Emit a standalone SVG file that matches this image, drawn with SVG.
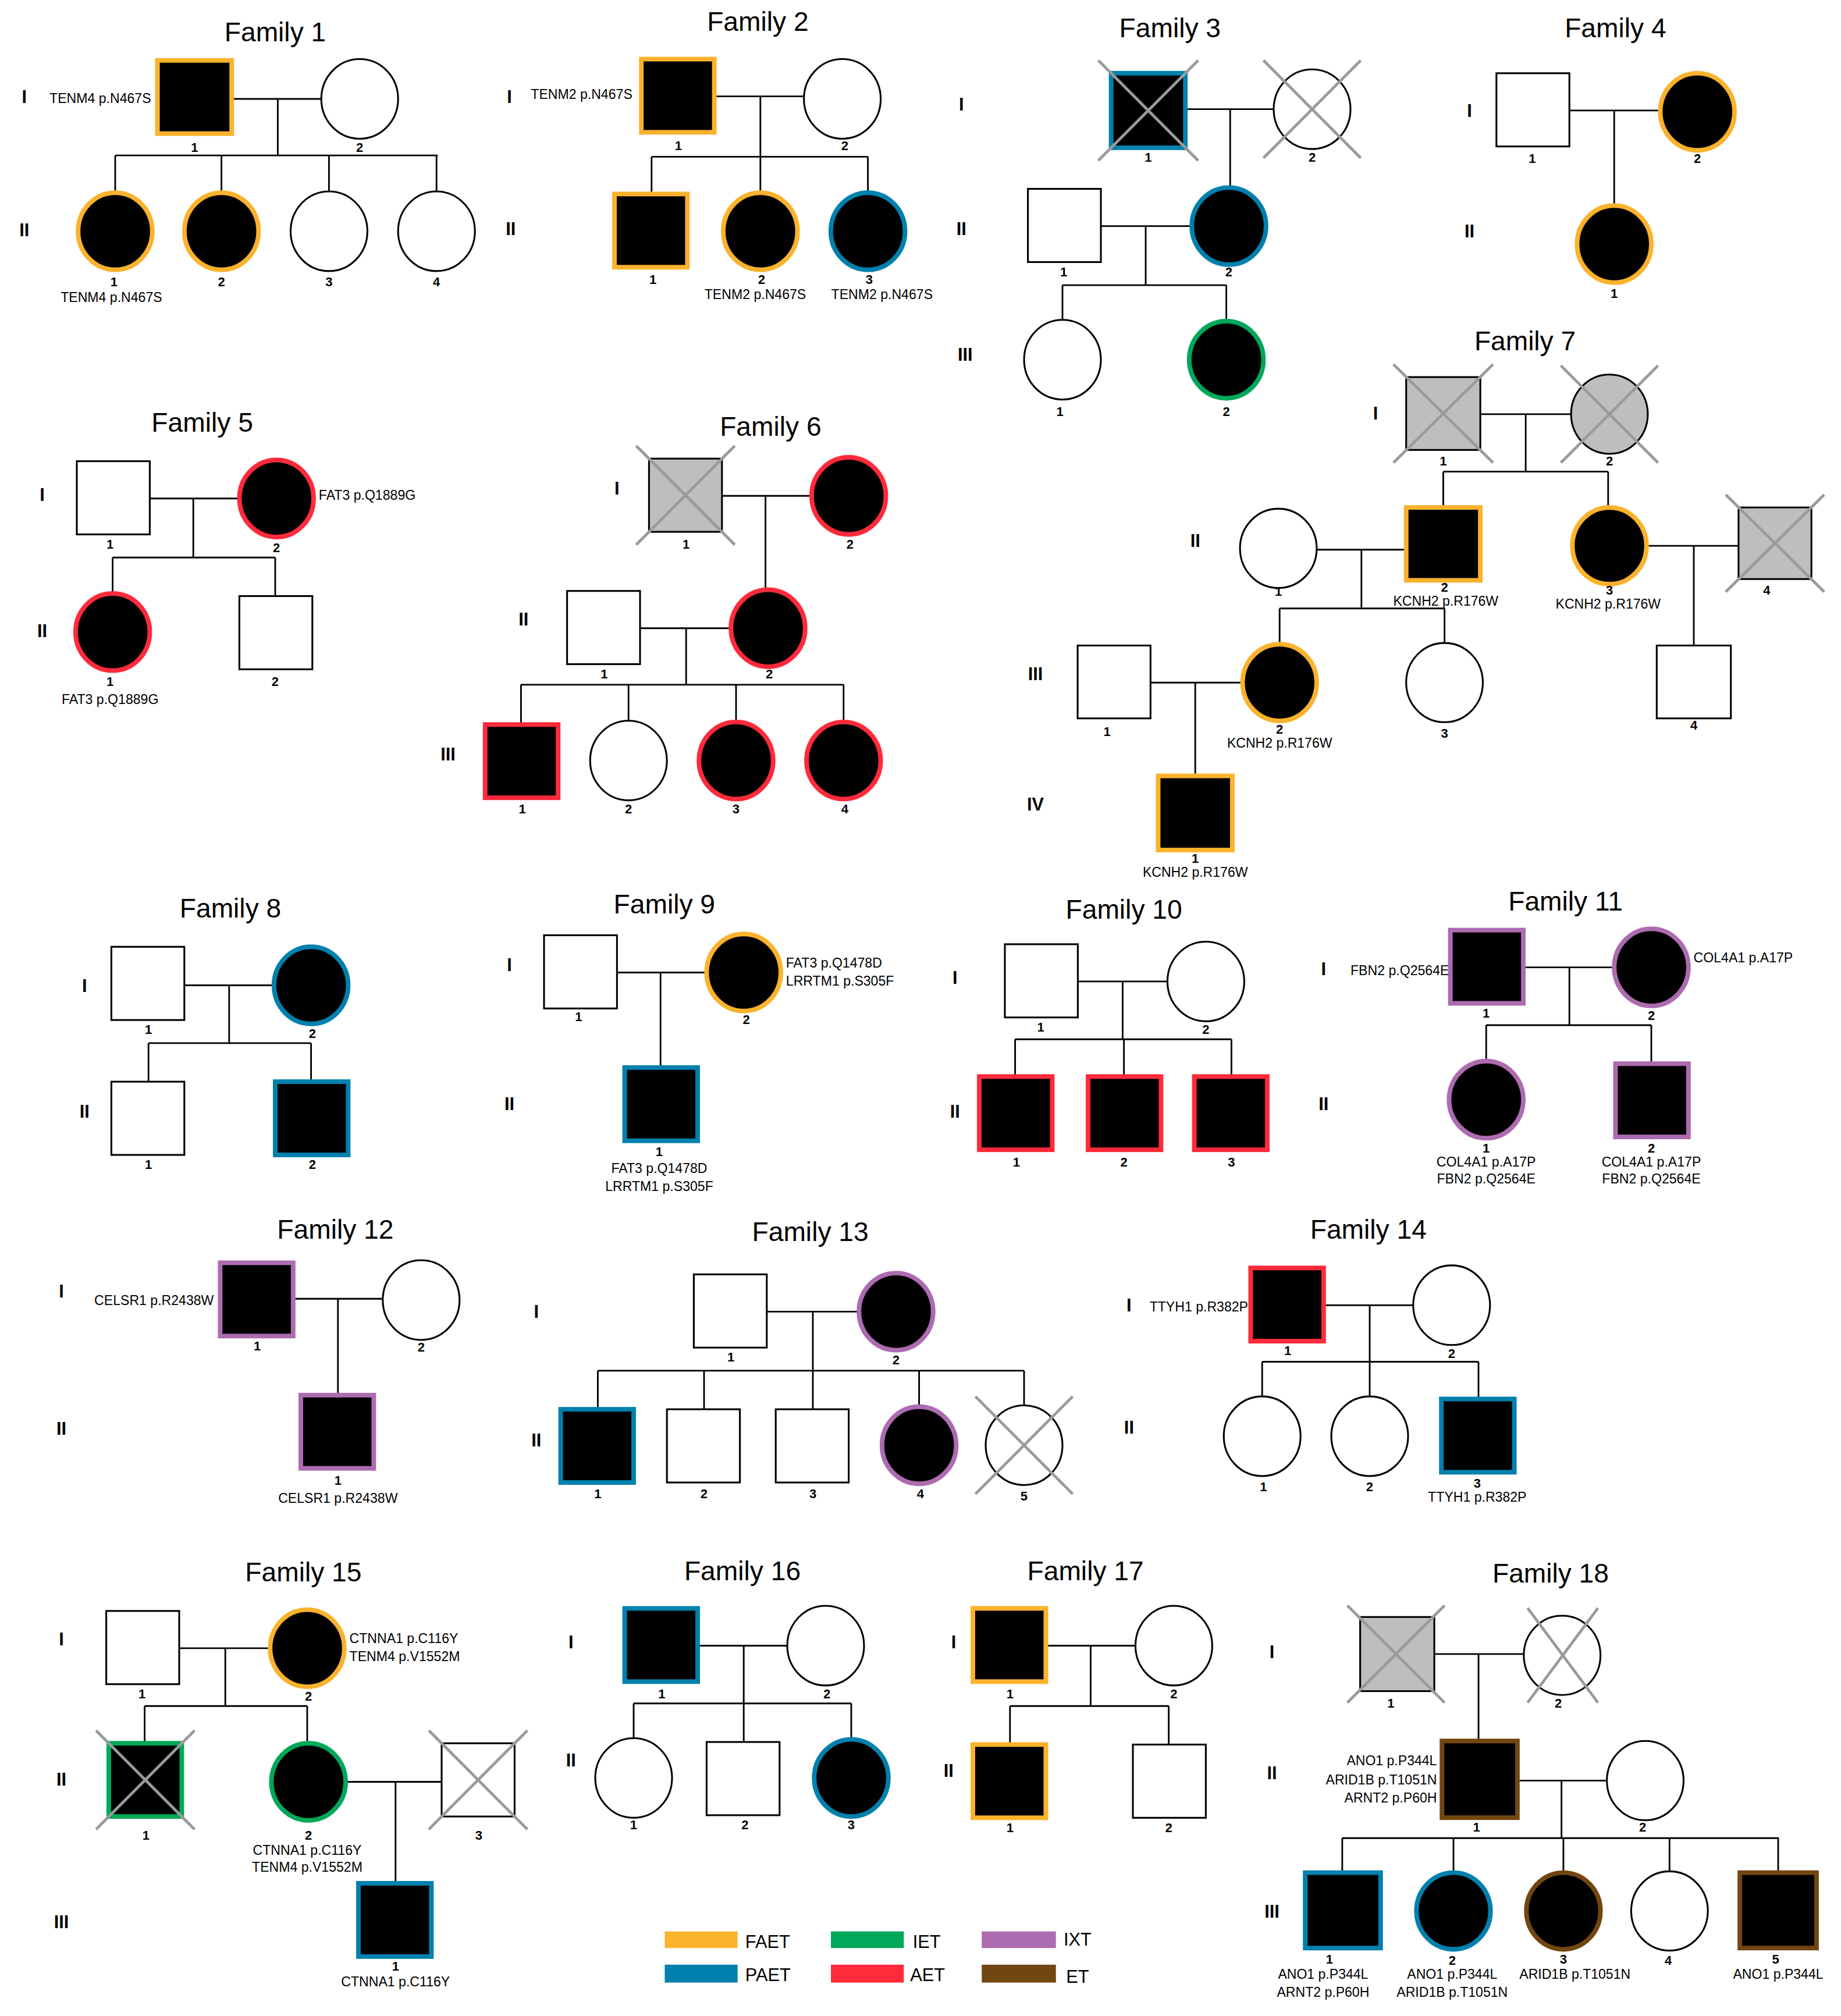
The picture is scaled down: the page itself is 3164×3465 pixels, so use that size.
<svg xmlns="http://www.w3.org/2000/svg" width="3164" height="3465" viewBox="0 0 3164 3465">
<style>
.s{fill:#fff;stroke:#000;stroke-width:1.4}
.gr{fill:#BCBEC0;stroke:#000;stroke-width:1.4}
.k{fill:#000;stroke-width:3.6}
.o{stroke:#FBB22C}.b{stroke:#0081AD}.g{stroke:#00A859}.r{stroke:#FF2A3A}.p{stroke:#AD6BB0}.n{stroke:#724611}
.x{stroke:#9A9A9A;stroke-width:2.2;fill:none}
.ln{stroke:#000;stroke-width:1.3;fill:none}
text{font-family:"Liberation Sans",Arial,sans-serif;fill:#000}
.t{font-size:21px;text-anchor:middle}
.l{font-size:10.5px}
.c{text-anchor:middle}
.e{text-anchor:end}
.nm{font-size:10px;font-weight:bold;text-anchor:middle}
.gn{font-size:14px;font-weight:bold;text-anchor:middle}
.lg{font-size:14px}
</style>
<rect width="3164" height="3465" fill="#fff"/>
<g transform="scale(2.2,2.208)">
<g id="connectors-main" class="ln">
<path d="M181 77H251M217 77V121M90 121H342M90 121V149M173 121V149M257 121V149M341 121V149"/>
<path d="M558 75H628M594 75V122M509 122H678M509 122V151M594 122V149M678 122V149"/>
<path d="M926 85H995M961 85V145M860 176H930M895 176V222M830 222H958M830 222V249M958 222V249"/>
<path d="M1226 86H1296M1261 86V159"/>
<path d="M117 388H186M151 388V434M88 434H215M88 434V461M215 434V464"/>
<path d="M564 386H633M598 386V458M500 489H570M536 489V533M407 533H659M407 533V564M491 533V561M575 533V561M659 533V561"/>
<path d="M144 767H213M179 767V812M116 812H243M116 812V842M243 812V842"/>
<path d="M482 757H551M516 757V831"/>
<path d="M842 764H912M877 764V809M793 809H962M793 809V838M878 809V838M962 809V838"/>
<path d="M1190 753H1260M1226 753V798M1161 798H1290M1161 798V825M1290 798V828"/>
<path d="M229 1011H299M264 1011V1086"/>
<path d="M599 1021H670M635 1021V1067M467 1067H800M467 1067V1097M550 1067V1097M635 1067V1097M718 1067V1094M800 1067V1094"/>
<path d="M1034 1016H1104M1070 1016V1060M986 1060H1155M986 1060V1087M1070 1060V1087M1155 1060V1089"/>
<path d="M140 1283H210M176 1283V1328M113 1328H240M113 1328V1357M240 1328V1356M271 1387H345M309 1387V1466"/>
<path d="M545 1281H615M581 1281V1326M495 1326H665M495 1326V1353M581 1326V1356M665 1326V1353"/>
<path d="M817 1281H887M852 1281V1328M789 1328H913M789 1328V1358M913 1328V1358"/>
</g>
<g id="family1">
<text class="t" x="215" y="32">Family 1</text>
<text class="gn" x="19" y="80">I</text><text class="gn" x="19" y="184">II</text>
<rect class="k o" x="123" y="47" width="58" height="57"/><text class="l e" x="118" y="80">TENM4 p.N467S</text><text class="nm" x="152" y="118">1</text>
<ellipse class="s" cx="281" cy="77" rx="30" ry="31"/><text class="nm" x="281" y="118">2</text>
<ellipse class="k o" cx="90" cy="180" rx="29" ry="30"/><text class="nm" x="89" y="223">1</text><text class="l c" x="87" y="235">TENM4 p.N467S</text>
<ellipse class="k o" cx="173" cy="180" rx="29" ry="30"/><text class="nm" x="173" y="223">2</text>
<ellipse class="s" cx="257" cy="180" rx="30" ry="31"/><text class="nm" x="257" y="223">3</text>
<ellipse class="s" cx="341" cy="180" rx="30" ry="31"/><text class="nm" x="341" y="223">4</text>
</g>
<g id="family2">
<text class="t" x="592" y="24">Family 2</text>
<text class="gn" x="398" y="80">I</text><text class="gn" x="399" y="183">II</text>
<rect class="k o" x="501" y="46" width="57" height="57"/><text class="l e" x="494" y="77">TENM2 p.N467S</text><text class="nm" x="530" y="117">1</text>
<ellipse class="s" cx="658" cy="77" rx="30" ry="31"/><text class="nm" x="660" y="117">2</text>
<rect class="k o" x="480" y="151" width="57" height="57"/><text class="nm" x="510" y="221">1</text>
<ellipse class="k o" cx="594" cy="180" rx="29" ry="30"/><text class="nm" x="595" y="221">2</text><text class="l c" x="590" y="233">TENM2 p.N467S</text>
<ellipse class="k b" cx="678" cy="180" rx="29" ry="30"/><text class="nm" x="679" y="221">3</text><text class="l c" x="689" y="233">TENM2 p.N467S</text>
</g>
<g id="family3">
<text class="t" x="914" y="29">Family 3</text>
<text class="gn" x="751" y="86">I</text><text class="gn" x="751" y="183">II</text><text class="gn" x="754" y="281">III</text>
<rect class="k b" x="868" y="57" width="58" height="58"/><path class="x" d="M858 47L936 125M936 47L858 125"/><text class="nm" x="897" y="126">1</text>
<ellipse class="s" cx="1025" cy="85" rx="30" ry="31"/><path class="x" d="M987 47L1063 123M1063 47L987 123"/><text class="nm" x="1025" y="126">2</text>
<rect class="s" x="803" y="147" width="57" height="57"/><text class="nm" x="831" y="215">1</text>
<ellipse class="k b" cx="960" cy="176" rx="29" ry="30"/><text class="nm" x="960" y="215">2</text>
<ellipse class="s" cx="830" cy="280" rx="30" ry="31"/><text class="nm" x="828" y="324">1</text>
<ellipse class="k g" cx="958" cy="280" rx="29" ry="30"/><text class="nm" x="958" y="324">2</text>
</g>
<g id="family4">
<text class="t" x="1262" y="29">Family 4</text>
<text class="gn" x="1148" y="91">I</text><text class="gn" x="1148" y="185">II</text>
<rect class="s" x="1169" y="57" width="57" height="57"/><text class="nm" x="1197" y="127">1</text>
<ellipse class="k o" cx="1326" cy="87" rx="29" ry="30"/><text class="nm" x="1326" y="127">2</text>
<ellipse class="k o" cx="1261" cy="190" rx="29" ry="30"/><text class="nm" x="1261" y="232">1</text>
</g>
<g id="family5">
<text class="t" x="158" y="336">Family 5</text>
<text class="gn" x="33" y="390">I</text><text class="gn" x="33" y="496">II</text>
<rect class="s" x="60" y="359" width="57" height="57"/><text class="nm" x="86" y="427">1</text>
<ellipse class="k r" cx="216" cy="388" rx="29" ry="30"/><text class="nm" x="216" y="430">2</text><text class="l" x="249" y="389">FAT3 p.Q1889G</text>
<ellipse class="k r" cx="88" cy="492" rx="29" ry="30"/><text class="nm" x="86" y="534">1</text><text class="l c" x="86" y="548">FAT3 p.Q1889G</text>
<rect class="s" x="187" y="464" width="57" height="57"/><text class="nm" x="215" y="534">2</text>
</g>
<g id="family6">
<text class="t" x="602" y="339">Family 6</text>
<text class="gn" x="482" y="385">I</text><text class="gn" x="409" y="487">II</text><text class="gn" x="350" y="592">III</text>
<rect class="gr" x="507" y="357" width="57" height="57"/><path class="x" d="M497 347L574 424M574 347L497 424"/><text class="nm" x="536" y="427">1</text>
<ellipse class="k r" cx="663" cy="386" rx="29" ry="30"/><text class="nm" x="664" y="427">2</text>
<rect class="s" x="443" y="460" width="57" height="57"/><text class="nm" x="472" y="528">1</text>
<ellipse class="k r" cx="600" cy="489" rx="29" ry="30"/><text class="nm" x="601" y="528">2</text>
<rect class="k r" x="379" y="564" width="57" height="57"/><text class="nm" x="408" y="633">1</text>
<ellipse class="s" cx="491" cy="592" rx="30" ry="31"/><text class="nm" x="491" y="633">2</text>
<ellipse class="k r" cx="575" cy="592" rx="29" ry="30"/><text class="nm" x="575" y="633">3</text>
<ellipse class="k r" cx="659" cy="592" rx="29" ry="30"/><text class="nm" x="660" y="633">4</text>
</g>
<g id="family8">
<text class="t" x="180" y="714">Family 8</text>
<text class="gn" x="66" y="772">I</text><text class="gn" x="66" y="870">II</text>
<rect class="s" x="87" y="737" width="57" height="57"/><text class="nm" x="116" y="805">1</text>
<ellipse class="k b" cx="243" cy="767" rx="29" ry="30"/><text class="nm" x="244" y="808">2</text>
<rect class="s" x="87" y="842" width="57" height="57"/><text class="nm" x="116" y="910">1</text>
<rect class="k b" x="215" y="842" width="57" height="57"/><text class="nm" x="244" y="910">2</text>
</g>
<g id="family9">
<text class="t" x="519" y="711">Family 9</text>
<text class="gn" x="398" y="756">I</text><text class="gn" x="398" y="864">II</text>
<rect class="s" x="425" y="728" width="57" height="57"/><text class="nm" x="452" y="795">1</text>
<ellipse class="k o" cx="581" cy="757" rx="29" ry="30"/><text class="nm" x="583" y="797">2</text>
<text class="l" x="614" y="753">FAT3 p.Q1478D</text><text class="l" x="614" y="767">LRRTM1 p.S305F</text>
<rect class="k b" x="488" y="831" width="57" height="57"/><text class="nm" x="515" y="900">1</text>
<text class="l c" x="515" y="913">FAT3 p.Q1478D</text><text class="l c" x="515" y="927">LRRTM1 p.S305F</text>
</g>
<g id="family10">
<text class="t" x="878" y="715">Family 10</text>
<text class="gn" x="746" y="766">I</text><text class="gn" x="746" y="870">II</text>
<rect class="s" x="785" y="735" width="57" height="57"/><text class="nm" x="813" y="803">1</text>
<ellipse class="s" cx="942" cy="764" rx="30" ry="31"/><text class="nm" x="942" y="805">2</text>
<rect class="k r" x="765" y="838" width="57" height="57"/><text class="nm" x="794" y="908">1</text>
<rect class="k r" x="850" y="838" width="57" height="57"/><text class="nm" x="878" y="908">2</text>
<rect class="k r" x="933" y="838" width="57" height="57"/><text class="nm" x="962" y="908">3</text>
</g>
<g id="family11">
<text class="t" x="1223" y="709">Family 11</text>
<text class="gn" x="1034" y="759">I</text><text class="gn" x="1034" y="864">II</text>
<rect class="k p" x="1133" y="724" width="57" height="57"/><text class="l e" x="1132" y="759">FBN2 p.Q2564E</text><text class="nm" x="1161" y="792">1</text>
<ellipse class="k p" cx="1290" cy="753" rx="29" ry="30"/><text class="l" x="1323" y="749">COL4A1 p.A17P</text><text class="nm" x="1290" y="794">2</text>
<ellipse class="k p" cx="1161" cy="856" rx="29" ry="30"/><text class="nm" x="1161" y="897">1</text>
<text class="l c" x="1161" y="908">COL4A1 p.A17P</text><text class="l c" x="1161" y="921">FBN2 p.Q2564E</text>
<rect class="k p" x="1262" y="828" width="57" height="57"/><text class="nm" x="1290" y="897">2</text>
<text class="l c" x="1290" y="908">COL4A1 p.A17P</text><text class="l c" x="1290" y="921">FBN2 p.Q2564E</text>
</g>
<g id="family12">
<text class="t" x="262" y="964">Family 12</text>
<text class="gn" x="48" y="1010">I</text><text class="gn" x="48" y="1117">II</text>
<rect class="k p" x="172" y="983" width="57" height="57"/><text class="l e" x="167" y="1016">CELSR1 p.R2438W</text><text class="nm" x="201" y="1051">1</text>
<ellipse class="s" cx="329" cy="1012" rx="30" ry="31"/><text class="nm" x="329" y="1052">2</text>
<rect class="k p" x="235" y="1086" width="57" height="57"/><text class="nm" x="264" y="1156">1</text><text class="l c" x="264" y="1170">CELSR1 p.R2438W</text>
</g>
<g id="family13">
<text class="t" x="633" y="966">Family 13</text>
<text class="gn" x="419" y="1026">I</text><text class="gn" x="419" y="1126">II</text>
<rect class="s" x="542" y="992" width="57" height="57"/><text class="nm" x="571" y="1060">1</text>
<ellipse class="k p" cx="700" cy="1021" rx="29" ry="30"/><text class="nm" x="700" y="1062">2</text>
<rect class="k b" x="438" y="1097" width="57" height="57"/><text class="nm" x="467" y="1166">1</text>
<rect class="s" x="521" y="1097" width="57" height="57"/><text class="nm" x="550" y="1166">2</text>
<rect class="s" x="606" y="1097" width="57" height="57"/><text class="nm" x="635" y="1166">3</text>
<ellipse class="k p" cx="718" cy="1125" rx="29" ry="30"/><text class="nm" x="719" y="1166">4</text>
<ellipse class="s" cx="800" cy="1125" rx="30" ry="31"/><path class="x" d="M762 1087L838 1163M838 1087L762 1163"/><text class="nm" x="800" y="1168">5</text>
</g>
<g id="family14">
<text class="t" x="1069" y="964">Family 14</text>
<text class="gn" x="882" y="1021">I</text><text class="gn" x="882" y="1116">II</text>
<rect class="k r" x="977" y="987" width="57" height="57"/><text class="l e" x="975" y="1021">TTYH1 p.R382P</text><text class="nm" x="1006" y="1055">1</text>
<ellipse class="s" cx="1134" cy="1016" rx="30" ry="31"/><text class="nm" x="1134" y="1057">2</text>
<ellipse class="s" cx="986" cy="1118" rx="30" ry="31"/><text class="nm" x="987" y="1161">1</text>
<ellipse class="s" cx="1070" cy="1118" rx="30" ry="31"/><text class="nm" x="1070" y="1161">2</text>
<rect class="k b" x="1126" y="1089" width="57" height="57"/><text class="nm" x="1154" y="1158">3</text><text class="l c" x="1154" y="1169">TTYH1 p.R382P</text>
</g>
<g id="family15">
<text class="t" x="237" y="1231">Family 15</text>
<text class="gn" x="48" y="1281">I</text><text class="gn" x="48" y="1390">II</text><text class="gn" x="48" y="1501">III</text>
<rect class="s" x="83" y="1254" width="57" height="57"/><text class="nm" x="111" y="1322">1</text>
<ellipse class="k o" cx="240" cy="1283" rx="29" ry="30"/><text class="nm" x="241" y="1324">2</text>
<text class="l" x="273" y="1279">CTNNA1 p.C116Y</text><text class="l" x="273" y="1293">TENM4 p.V1552M</text>
<rect class="k g" x="85" y="1357" width="57" height="57"/><path class="x" d="M75 1347L152 1424M152 1347L75 1424"/><text class="nm" x="114" y="1432">1</text>
<ellipse class="k g" cx="241" cy="1387" rx="29" ry="30"/><text class="nm" x="241" y="1432">2</text>
<text class="l c" x="240" y="1444">CTNNA1 p.C116Y</text><text class="l c" x="240" y="1457">TENM4 p.V1552M</text>
<rect class="s" x="345" y="1357" width="57" height="57"/><path class="x" d="M335 1347L412 1424M412 1347L335 1424"/><text class="nm" x="374" y="1432">3</text>
<rect class="k b" x="280" y="1466" width="57" height="57"/><text class="nm" x="309" y="1534">1</text><text class="l c" x="309" y="1546">CTNNA1 p.C116Y</text>
</g>
<g id="family16">
<text class="t" x="580" y="1230">Family 16</text>
<text class="gn" x="446" y="1283">I</text><text class="gn" x="446" y="1375">II</text>
<rect class="k b" x="488" y="1252" width="57" height="57"/><text class="nm" x="517" y="1322">1</text>
<ellipse class="s" cx="645" cy="1281" rx="30" ry="31"/><text class="nm" x="646" y="1322">2</text>
<ellipse class="s" cx="495" cy="1384" rx="30" ry="31"/><text class="nm" x="495" y="1424">1</text>
<rect class="s" x="552" y="1356" width="57" height="57"/><text class="nm" x="582" y="1424">2</text>
<ellipse class="k b" cx="665" cy="1384" rx="29" ry="30"/><text class="nm" x="665" y="1424">3</text>
</g>
<g id="family17">
<text class="t" x="848" y="1230">Family 17</text>
<text class="gn" x="745" y="1283">I</text><text class="gn" x="741" y="1383">II</text>
<rect class="k o" x="760" y="1252" width="57" height="57"/><text class="nm" x="789" y="1322">1</text>
<ellipse class="s" cx="917" cy="1281" rx="30" ry="31"/><text class="nm" x="917" y="1322">2</text>
<rect class="k o" x="760" y="1358" width="57" height="57"/><text class="nm" x="789" y="1426">1</text>
<rect class="s" x="885" y="1358" width="57" height="57"/><text class="nm" x="913" y="1426">2</text>
</g>
</g>
<g transform="scale(2.197)">
<g id="connectors-b" class="ln">
<path d="M1158 324H1229M1193.5 324V369M1129 369H1258M1129 369V397M1258 369V396M1030 430H1100M1065 430V476M1001 476H1130M1001 476V503M1130 476V503M1289 427H1360M1325 427V505M900 534H971M935 534V607"/>
<path d="M1122 1294H1192M1156.6 1294V1362M1187 1393H1257M1221.5 1393V1438M1050 1438H1391.5M1050 1438V1465M1137 1438V1464M1223 1438V1464M1306 1438V1464M1391 1438V1465"/>
</g>
<g id="family7">
<text class="t" x="1193" y="274">Family 7</text>
<text class="gn" x="1076" y="328">I</text><text class="gn" x="935" y="428">II</text><text class="gn" x="810" y="532">III</text><text class="gn" x="810" y="634">IV</text>
<rect class="gr" x="1100" y="295" width="58" height="57"/><path class="x" d="M1090 285L1168 362M1168 285L1090 362"/><text class="nm" x="1129" y="364">1</text>
<ellipse class="gr" cx="1259" cy="324" rx="30" ry="31"/><path class="x" d="M1221 286L1297 362M1297 286L1221 362"/><text class="nm" x="1259" y="364">2</text>
<ellipse class="s" cx="1000" cy="429" rx="30" ry="31"/><text class="nm" x="1000" y="466">1</text>
<rect class="k o" x="1100" y="397" width="58" height="57"/><text class="nm" x="1130" y="463">2</text><text class="l c" x="1131" y="474">KCNH2 p.R176W</text>
<ellipse class="k o" cx="1259" cy="427" rx="29" ry="30"/><text class="nm" x="1259" y="465">3</text><text class="l c" x="1258" y="476">KCNH2 p.R176W</text>
<rect class="gr" x="1360" y="397" width="57" height="56"/><path class="x" d="M1350 387L1427 463M1427 387L1350 463"/><text class="nm" x="1382" y="465">4</text>
<rect class="s" x="843" y="505" width="57" height="57"/><text class="nm" x="866" y="576">1</text>
<ellipse class="k o" cx="1001" cy="534" rx="29" ry="30"/><text class="nm" x="1001" y="574">2</text><text class="l c" x="1001" y="585">KCNH2 p.R176W</text>
<ellipse class="s" cx="1130" cy="534" rx="30" ry="31"/><text class="nm" x="1130" y="577">3</text>
<rect class="s" x="1296" y="505" width="58" height="57"/><text class="nm" x="1325" y="571">4</text>
<rect class="k o" x="906" y="607" width="58" height="58"/><text class="nm" x="935" y="675">1</text><text class="l c" x="935" y="686">KCNH2 p.R176W</text>
</g>
<g id="family18">
<text class="t" x="1213" y="1238">Family 18</text>
<text class="gn" x="995" y="1297">I</text><text class="gn" x="995" y="1392">II</text><text class="gn" x="995" y="1500">III</text>
<rect class="gr" x="1064" y="1265" width="58" height="58"/><path class="x" d="M1054 1256L1130 1332M1130 1256L1054 1332"/><text class="nm" x="1088" y="1336">1</text>
<ellipse class="s" cx="1222" cy="1295" rx="30" ry="31"/><path class="x" d="M1195 1258L1250 1332M1250 1258L1195 1332"/><text class="nm" x="1219" y="1336">2</text>
<rect class="k n" x="1128" y="1362" width="59" height="60"/><text class="nm" x="1155" y="1433">1</text>
<text class="l e" x="1124" y="1381">ANO1 p.P344L</text><text class="l e" x="1124" y="1396">ARID1B p.T1051N</text><text class="l e" x="1124" y="1410">ARNT2 p.P60H</text>
<ellipse class="s" cx="1287" cy="1393" rx="30" ry="31"/><text class="nm" x="1285" y="1433">2</text>
<rect class="k b" x="1021" y="1465" width="59" height="59"/><text class="nm" x="1040" y="1536">1</text>
<text class="l c" x="1035" y="1548">ANO1 p.P344L</text><text class="l c" x="1035" y="1562">ARNT2 p.P60H</text>
<ellipse class="k b" cx="1137" cy="1495" rx="29" ry="30"/><text class="nm" x="1136" y="1537">2</text>
<text class="l c" x="1136" y="1548">ANO1 p.P344L</text><text class="l c" x="1136" y="1562">ARID1B p.T1051N</text>
<ellipse class="k n" cx="1223" cy="1495" rx="29" ry="30"/><text class="nm" x="1223" y="1536">3</text>
<text class="l c" x="1232" y="1548">ARID1B p.T1051N</text>
<ellipse class="s" cx="1306" cy="1495" rx="30" ry="31"/><text class="nm" x="1305" y="1537">4</text>
<rect class="k n" x="1361" y="1465" width="60" height="59"/><text class="nm" x="1389" y="1536">5</text>
<text class="l c" x="1391" y="1548">ANO1 p.P344L</text>
</g>
<g id="legend">
<rect x="520" y="1511" width="57" height="13" fill="#FBB22C"/><text class="lg" x="583" y="1524">FAET</text>
<rect x="520" y="1537" width="57" height="14" fill="#0081AD"/><text class="lg" x="583" y="1550">PAET</text>
<rect x="650" y="1511" width="57" height="13" fill="#00A859"/><text class="lg" x="714" y="1524">IET</text>
<rect x="650" y="1537" width="57" height="14" fill="#FF2A3A"/><text class="lg" x="712" y="1550">AET</text>
<rect x="768" y="1511" width="58" height="13" fill="#AD6BB0"/><text class="lg" x="832" y="1522">IXT</text>
<rect x="768" y="1537" width="58" height="14" fill="#724611"/><text class="lg" x="834" y="1551">ET</text>
</g>
</g>
</svg>
